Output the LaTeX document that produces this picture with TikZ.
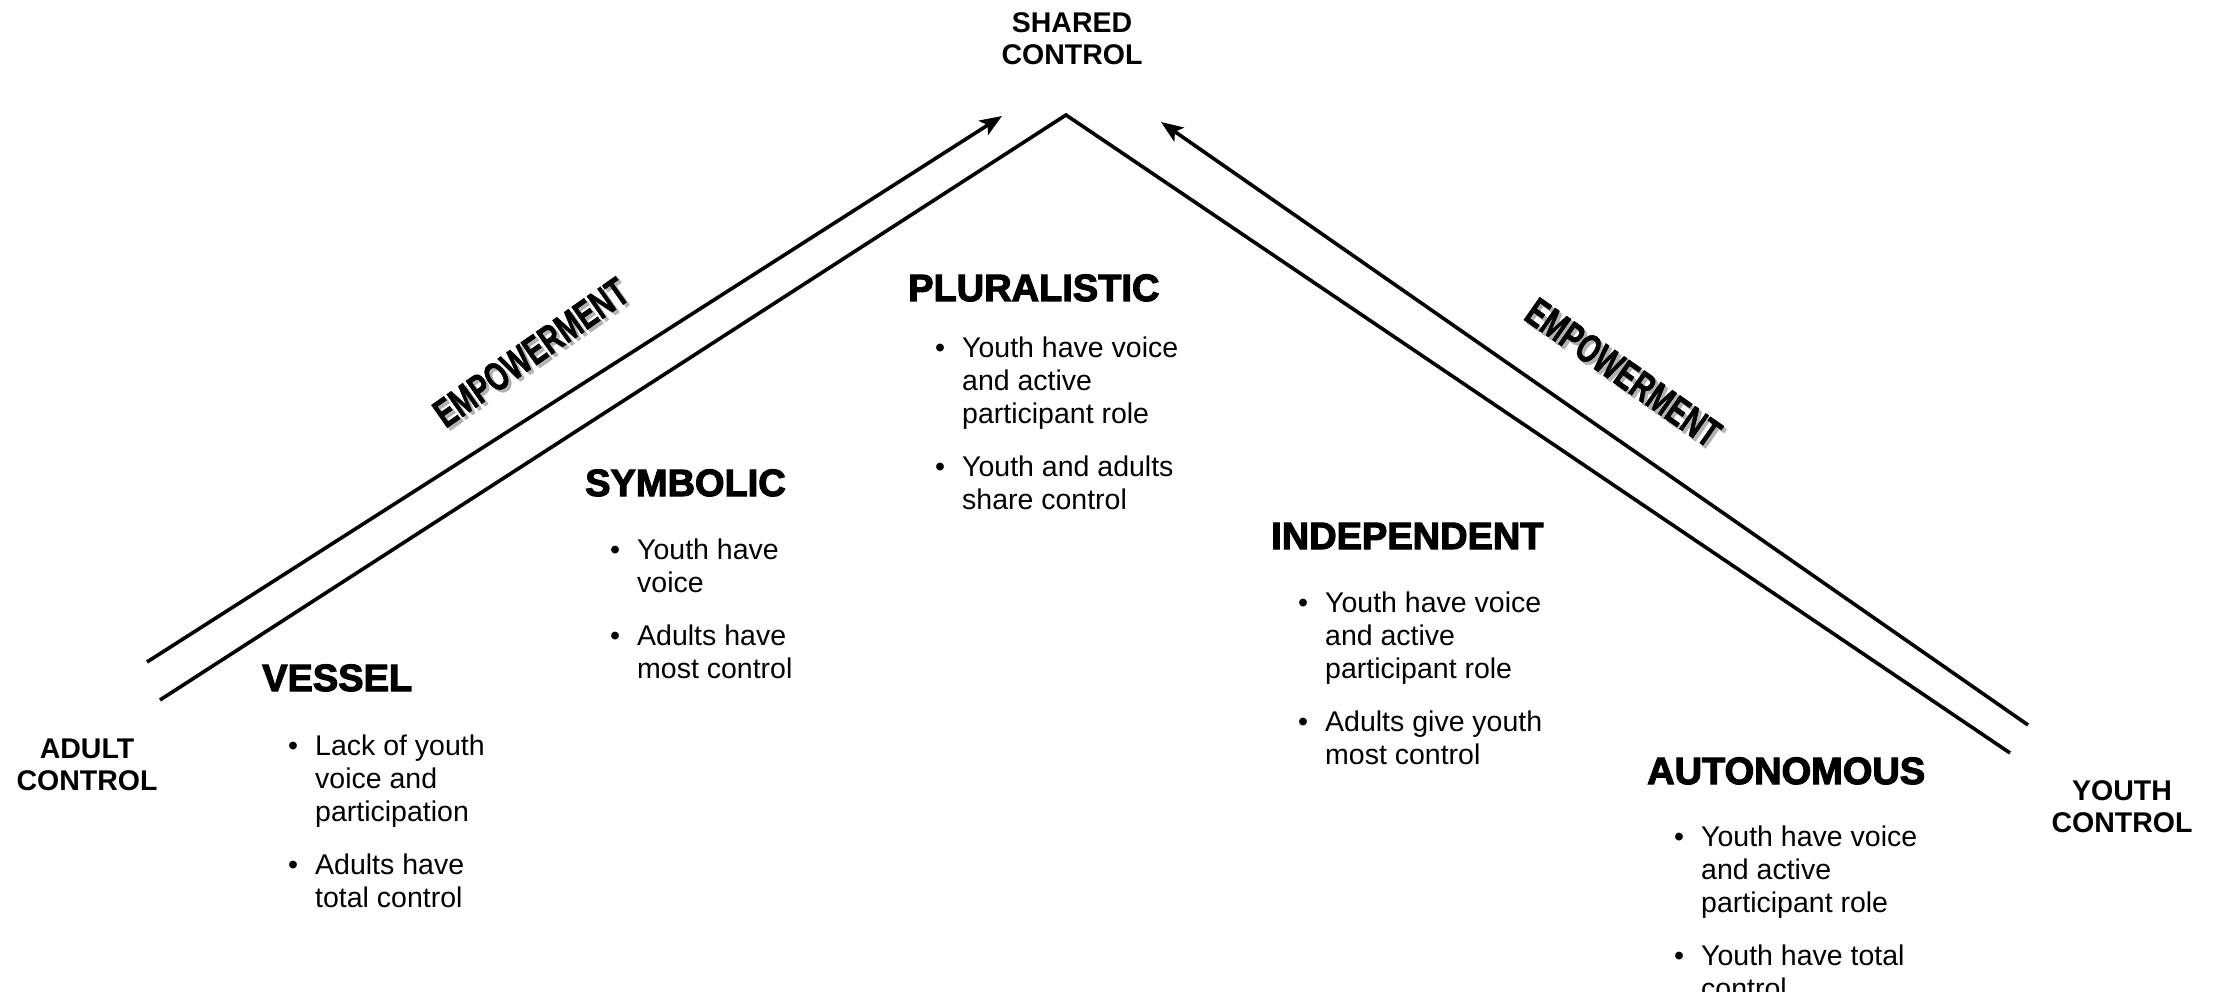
\documentclass[tikz,border=0pt]{standalone}
\usepackage{fontspec}
\setmainfont{Liberation Sans}
\newfontfamily\headfont[FakeBold=3]{Liberation Sans Bold}
\newfontfamily\empfont[FakeBold=1.5]{Liberation Sans Bold}
\usetikzlibrary{arrows.meta}
\newcommand\blt{\makebox[27pt][l]{\textbullet}}
\newcommand\blist[1]{\begin{tabular}[t]{@{}l@{}l@{}}#1\end{tabular}}
\newcommand\empword{\scalebox{0.7}[1]{EMPOWERMENT}}
\newcommand\empshad[2]{\makebox[0pt][l]{\hspace{#1}\raisebox{#2}{\color{black!30}\empword}}\empword}
\tikzset{
  ln/.style={line width=3.6pt},
  arr/.style={ln,-{Stealth[length=22pt,width=17pt,inset=5pt]}},
  head/.style={anchor=base west,inner sep=0pt,font=\headfont\fontsize{38}{40}\selectfont},
  items/.style={anchor=base west,inner sep=0pt,font=\fontsize{28.5}{33}\selectfont},
  pole/.style={anchor=base,inner sep=0pt,font=\bfseries\fontsize{28.5}{32}\selectfont},
  emp/.style={inner sep=0pt,font=\empfont\fontsize{40}{42}\selectfont}
}
\begin{document}
\begin{tikzpicture}[x=1pt,y=-1pt]
\clip (0,0) rectangle (2219,992);
\fill[white] (0,0) rectangle (2219,992);

% connector geometry
\coordinate (aL0) at (147,662);
\coordinate (aL1) at (1002,116);
\coordinate (cL) at (160,700);
\coordinate (apex) at (1066,115);
\coordinate (cR) at (2010,753);
\coordinate (aR0) at (2028,725);
\coordinate (aR1) at (1161,122);

\draw[arr] (aL0) -- (aL1);
\draw[arr] (aR0) -- (aR1);
\draw[ln,line join=miter] (cL) -- (apex) -- (cR);

% poles
\node[pole] (shared) at (1072,33) {\begin{tabular}[t]{@{}c@{}}SHARED\\CONTROL\end{tabular}};
\node[pole] (adult) at (87,758) {\begin{tabular}[t]{@{}c@{}}ADULT\\CONTROL\end{tabular}};
\node[pole] (youth) at (2122,800) {\begin{tabular}[t]{@{}c@{}}YOUTH\\CONTROL\end{tabular}};

% empowerment labels (with drop shadow)
\node[emp,rotate=35] (empL) at (532,354) {\empshad{1pt}{-4pt}};
\node[emp,rotate=-35] (empR) at (1623,373) {\empshad{4pt}{-1pt}};

% headings
\node[head] (vessel) at (262,691) {VESSEL};
\node[head] (symbolic) at (585,496) {SYMBOLIC};
\node[head] (plural) at (908,301) {PLURALISTIC};
\node[head] (indep) at (1271,549) {INDEPENDENT};
\node[head] (auto) at (1647,784) {AUTONOMOUS};

% bullet lists
\node[items] (vesselL) at (288,755) {\blist{\blt & Lack of youth\\ & voice and\\ & participation\\[20pt] \blt & Adults have\\ & total control}};
\node[items] (symbolicL) at (610,559) {\blist{\blt & Youth have\\ & voice\\[20pt] \blt & Adults have\\ & most control}};
\node[items] (pluralL) at (935,357) {\blist{\blt & Youth have voice\\ & and active\\ & participant role\\[20pt] \blt & Youth and adults\\ & share control}};
\node[items] (indepL) at (1298,612) {\blist{\blt & Youth have voice\\ & and active\\ & participant role\\[20pt] \blt & Adults give youth\\ & most control}};
\node[items] (autoL) at (1674,846) {\blist{\blt & Youth have voice\\ & and active\\ & participant role\\[20pt] \blt & Youth have total\\ & control}};
\end{tikzpicture}
\end{document}
